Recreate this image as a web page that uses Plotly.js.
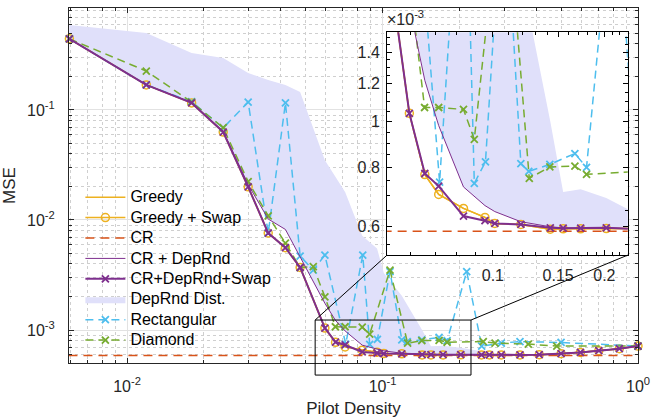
<!DOCTYPE html>
<html><head><meta charset="utf-8">
<script src="https://cdn.plot.ly/plotly-3.0.1.min.js"></script>
<style>html,body{margin:0;padding:0;background:#fff}#chart{width:653px;height:418px}</style>
</head><body><div id="chart"></div>
<script>
// ---- data ----
const xGreedy = [0.00595, 0.0119, 0.0179, 0.0238, 0.0298, 0.0357, 0.0417, 0.0476, 0.0595, 0.0655, 0.0714, 0.0833, 0.0952, 0.1012, 0.119, 0.1429, 0.1548, 0.1726, 0.2024, 0.244, 0.262, 0.2917, 0.3452, 0.4107, 0.5, 0.5952, 0.7024, 0.8452, 1.0];
const greedy = [0.443, 0.169, 0.116, 0.063, 0.020, 0.0076, 0.0056, 0.0037, 1.04e-3, 7.73e-4, 7.02e-4, 6.56e-4, 6.28e-4, 6.1e-4, 6.07e-4, 5.93e-4, 5.94e-4, 5.94e-4, 5.95e-4, 5.93e-4, 5.93e-4, 5.93e-4, 5.94e-4, 5.97e-4, 6.09e-4, 6.26e-4, 6.49e-4, 6.76e-4, 7.14e-4];
const greedySwap = [0.443, 0.169, 0.116, 0.063, 0.020, 0.0076, 0.0056, 0.0037, 1.04e-3, 7.73e-4, 7.02e-4, 6.56e-4, 6.28e-4, 6.1e-4, 6.07e-4, 5.93e-4, 5.94e-4, 5.94e-4, 5.95e-4, 5.93e-4, 5.93e-4, 5.93e-4, 5.94e-4, 5.97e-4, 6.09e-4, 6.26e-4, 6.49e-4, 6.76e-4, 7.14e-4];
const crDepRndSwap = [0.443, 0.169, 0.116, 0.063, 0.020, 0.0076, 0.0056, 0.0037, 1.04e-3, 7.77e-4, 7.31e-4, 6.32e-4, 6.18e-4, 6.1e-4, 6.07e-4, 5.97e-4, 5.96e-4, 5.96e-4, 5.97e-4, 5.93e-4, 5.93e-4, 5.93e-4, 5.94e-4, 5.97e-4, 6.09e-4, 6.26e-4, 6.49e-4, 6.76e-4, 7.14e-4];
const crDepRnd = [0.443, 0.169, 0.117, 0.064, 0.021, 0.0102, 0.0082, 0.0046, 1.75e-3, 1.22e-3, 9.8e-4, 7.28e-4, 6.65e-4, 6.46e-4, 6.15e-4, 6.0e-4, 5.97e-4, 5.96e-4, 5.97e-4, 5.94e-4, 5.94e-4, 5.94e-4, 5.95e-4, 5.98e-4, 6.1e-4, 6.27e-4, 6.5e-4, 6.77e-4, 7.15e-4];
const depRndUpper = [0.593, 0.50, 0.33, 0.297, 0.217, 0.1875, 0.169, 0.146, 0.035, 0.0246, 0.018, 7.2e-3, 5.5e-3, 3.3e-3, 2.05e-3, 1.0e-3, 7.1e-4, 7.2e-4, 6.9e-4, 6.4e-4, 6.1e-4, 5.98e-4, 5.96e-4, 5.99e-4, 6.11e-4, 6.28e-4, 6.51e-4, 6.78e-4, 7.16e-4];
const depRndLower = crDepRnd;
const crX = [0.0059, 1.0];
const crValue = 5.87e-4;
const xRect = [0.00595, 0.0119, 0.0179, 0.0238, 0.0298, 0.0357, 0.0417, 0.0476, 0.0536, 0.0595, 0.0718, 0.0837, 0.0891, 0.0955, 0.107, 0.119, 0.125, 0.1425, 0.1665, 0.179, 0.2136, 0.2445, 0.2917, 0.3452, 0.5, 1.0];
const rect = [0.443, 0.169, 0.119, 0.0686, 0.118, 0.0076, 0.116, 0.0047, 0.0035, 0.0048, 7.45e-4, 0.0048, 7.41e-4, 8.22e-4, 3.4e-3, 8.15e-4, 7.85e-4, 8.12e-4, 8.56e-4, 8.0e-4, 3.39e-3, 7.13e-4, 7.6e-4, 7.85e-4, 7.7e-4, 7.14e-4];
const xDiamond = [0.00595, 0.0119, 0.0179, 0.0238, 0.0298, 0.0357, 0.0417, 0.0476, 0.0536, 0.0595, 0.0654, 0.0714, 0.0833, 0.0891, 0.107, 0.1254, 0.1425, 0.1665, 0.179, 0.248, 0.2757, 0.372, 0.481, 1.0];
const diamond = [0.443, 0.226, 0.118, 0.069, 0.0223, 0.0109, 0.00615, 0.0037, 0.00376, 0.0020, 1.07e-3, 1.07e-3, 1.06e-3, 9.17e-4, 3.5e-3, 7.59e-4, 8.02e-4, 8.05e-4, 7.74e-4, 7.85e-4, 7.6e-4, 7.45e-4, 7.14e-4, 7.14e-4];
const names = ['Greedy', 'Greedy + Swap', 'CR', 'CR + DepRnd', 'CR+DepRnd+Swap', 'DepRnd Dist.', 'Rectangular', 'Diamond'];
const mainXTicks = [0.01, 0.1, 1];
const mainXTickText = ['10<sup>-2</sup>', '10<sup>-1</sup>', '10<sup>0</sup>'];
const mainYTicks = [0.001, 0.01, 0.1];
const mainYTickText = ['10<sup>-3</sup>', '10<sup>-2</sup>', '10<sup>-1</sup>'];
const insetXTicks = [0.1, 0.15, 0.2];
const insetXTickText = ['0.1', '0.15', '0.2'];
const insetYTicks = [0.6e-3, 0.8e-3, 1.0e-3, 1.2e-3, 1.4e-3];
const insetYTickText = ['0.6', '0.8', '1', '1.2', '1.4'];
const zoomBox = {x0: 0.0545, x1: 0.222};

// ---- styling ----
const C = {greedy:'#EDB120', cr:'#D95319', purple:'#7E2F8E', fill:'rgb(224,224,250)', rect:'#4DBEEE', dia:'#77AC30'};
const FONT = 'Liberation Sans, Arial, Helvetica, sans-serif';
const xMainRange = [-2.227, 0];
const yMainRange = [-3.3, -0.073];
const xInsetRange = [Math.log10(0.0518), Math.log10(0.2313)];
const yInsetRange = [-3.2814, -2.8119];
const insetDom = {x:[0.559, 0.982], y:[0.304, 0.932]};

function minorLog(lo, hi) { const v=[]; for (let e=lo; e<=hi; e++) for (let d=2; d<=9; d++) v.push(d*Math.pow(10,e)); return v; }
function linTicks(a, b, s, skip) { const v=[]; for (let t=a; t<=b+1e-12; t+=s) { const r=+t.toPrecision(6); if (!skip.some(k=>Math.abs(k-r)<1e-9)) v.push(r);} return v; }
const legName = (s) => '<span style="font-size:16px">' + s + '</span>';

function makeTraces(xa, ya, main) {
  const base = {xaxis: xa, yaxis: ya, showlegend: main, cliponaxis: !main};
  const xMk = (c) => ({symbol:'x-thin-open', size:7, line:{color:c, width:1.8}});
  return [
    Object.assign({}, base, {name: legName(names[5]), legendrank: 6, x: xGreedy.concat(xGreedy.slice().reverse()), y: depRndUpper.concat(depRndLower.slice().reverse()), mode:'lines', fill:'toself', fillcolor:C.fill, line:{width:0, color:C.fill}, hoverinfo:'skip'}),
    Object.assign({}, base, {name: legName(names[0]), legendrank: 1, x: xGreedy, y: greedy, mode:'lines', line:{color:C.greedy, width:1.5}}),
    Object.assign({}, base, {name: legName(names[1]), legendrank: 2, x: xGreedy, y: greedySwap, mode:'lines+markers', line:{color:C.greedy, width:1.5}, marker:{symbol:'circle-open', size:8, color:C.greedy, line:{color:C.greedy, width:1.5}}}),
    Object.assign({}, base, {name: legName(names[2]), legendrank: 3, x: crX, y: crX.map(()=>crValue), mode:'lines', line:{color:C.cr, width:1.5, dash:'9px,6px'}}),
    Object.assign({}, base, {name: legName(names[6]), legendrank: 7, x: xRect, y: rect, mode:'lines+markers', line:{color:C.rect, width:1.5, dash:'8px,5px'}, marker: xMk(C.rect)}),
    Object.assign({}, base, {name: legName(names[7]), legendrank: 8, x: xDiamond, y: diamond, mode:'lines+markers', line:{color:C.dia, width:1.5, dash:'8px,5px'}, marker: xMk(C.dia)}),
    Object.assign({}, base, {name: legName(names[3]), legendrank: 4, x: xGreedy, y: crDepRnd, mode:'lines', line:{color:C.purple, width:1}}),
    Object.assign({}, base, {name: legName(names[4]), legendrank: 5, x: xGreedy, y: crDepRndSwap, mode:'lines+markers', line:{color:C.purple, width:2}, marker: xMk(C.purple)})
  ];
}

const data = makeTraces('x', 'y', true).concat(makeTraces('x2', 'y2', false));

const axFont = {family: FONT, size: 16, color: '#262626'};
const px = (v) => (Math.log10(v) - xMainRange[0]) / (xMainRange[1] - xMainRange[0]);
const bx0 = px(zoomBox.x0), bx1 = px(zoomBox.x1);
const by0 = -0.034, by1 = 0.121;

const layout = {
  width: 653, height: 418,
  margin: {l: 69, r: 15, t: 8, b: 55},
  paper_bgcolor: '#fff', plot_bgcolor: '#fff',
  font: {family: FONT, size: 16, color: '#262626'},
  showlegend: true,
  legend: {x: 0.02, y: 0.51, xanchor: 'left', yanchor: 'top', bgcolor: 'rgba(0,0,0,0)', font: {family: FONT, size: 13.4, color: '#000'}, tracegroupgap: 0, itemwidth: 40, traceorder: 'normal'},
  xaxis: {
    type: 'log', range: xMainRange, domain: [0, 1],
    tickvals: mainXTicks, ticktext: mainXTickText, tickfont: axFont,
    ticks: 'inside', ticklen: 5, tickcolor: '#262626', showline: true, linecolor: '#262626', linewidth: 1, mirror: 'ticks',
    showgrid: true, gridcolor: '#e2e2e2', gridwidth: 1, zeroline: false,
    minor: {tickvals: minorLog(-3, -1), ticks: 'inside', ticklen: 3, tickcolor: '#262626', showgrid: true, gridcolor: '#cfcfcf', griddash: 'dot', gridwidth: 1},
    title: {text: 'Pilot Density', font: {family: FONT, size: 17, color: '#262626'}, standoff: 12},
    automargin: false, ticklabelstandoff: 9
  },
  yaxis: {
    type: 'log', range: yMainRange, domain: [0, 1],
    tickvals: mainYTicks, ticktext: mainYTickText, tickfont: axFont,
    ticks: 'inside', ticklen: 5, tickcolor: '#262626', showline: true, linecolor: '#262626', linewidth: 1, mirror: 'ticks',
    showgrid: true, gridcolor: '#e2e2e2', gridwidth: 1, zeroline: false,
    minor: {tickvals: minorLog(-4, -1), ticks: 'inside', ticklen: 3, tickcolor: '#262626', showgrid: true, gridcolor: '#cfcfcf', griddash: 'dot', gridwidth: 1},
    title: {text: 'MSE', font: {family: FONT, size: 17, color: '#262626'}, standoff: 8},
    automargin: false, ticklabelstandoff: 10
  },
  xaxis2: {
    type: 'log', range: xInsetRange, domain: insetDom.x, anchor: 'y2',
    tickvals: insetXTicks, ticktext: insetXTickText, tickfont: axFont,
    ticks: 'inside', ticklen: 5, tickcolor: '#000', showline: true, linecolor: '#000', linewidth: 1, mirror: 'ticks',
    showgrid: false, zeroline: false,
    minor: {tickvals: linTicks(0.06, 0.23, 0.01, insetXTicks), ticks: 'inside', ticklen: 3, tickcolor: '#000', showgrid: false},
    automargin: false, ticklabelstandoff: 6
  },
  yaxis2: {
    type: 'log', range: yInsetRange, domain: insetDom.y, anchor: 'x2',
    tickvals: insetYTicks, ticktext: insetYTickText, tickfont: axFont,
    ticks: 'inside', ticklen: 5, tickcolor: '#000', showline: true, linecolor: '#000', linewidth: 1, mirror: 'ticks',
    showgrid: false, zeroline: false,
    minor: {tickvals: linTicks(0.55e-3, 1.5e-3, 0.05e-3, insetYTicks), ticks: 'inside', ticklen: 3, tickcolor: '#000', showgrid: false},
    automargin: false, ticklabelstandoff: 3
  },
  shapes: [
    {type: 'rect', xref: 'paper', yref: 'paper', x0: bx0, x1: bx1, y0: by0, y1: by1, line: {color: '#000', width: 1}, fillcolor: 'rgba(0,0,0,0)'},
    {type: 'line', xref: 'paper', yref: 'paper', x0: bx0, y0: by1, x1: insetDom.x[0], y1: insetDom.y[0], line: {color: '#000', width: 1}},
    {type: 'line', xref: 'paper', yref: 'paper', x0: bx1, y0: by1, x1: insetDom.x[1], y1: insetDom.y[0], line: {color: '#000', width: 1}}
  ],
  annotations: [
    {xref: 'paper', yref: 'paper', x: insetDom.x[0] - 0.003, y: insetDom.y[1] + 0.005, xanchor: 'left', yanchor: 'bottom', text: '×10<sup>-3</sup>', showarrow: false, font: {family: FONT, size: 16, color: '#262626'}}
  ]
};

Plotly.newPlot('chart', data, layout, {displayModeBar: false, staticPlot: true});
</script></body></html>
